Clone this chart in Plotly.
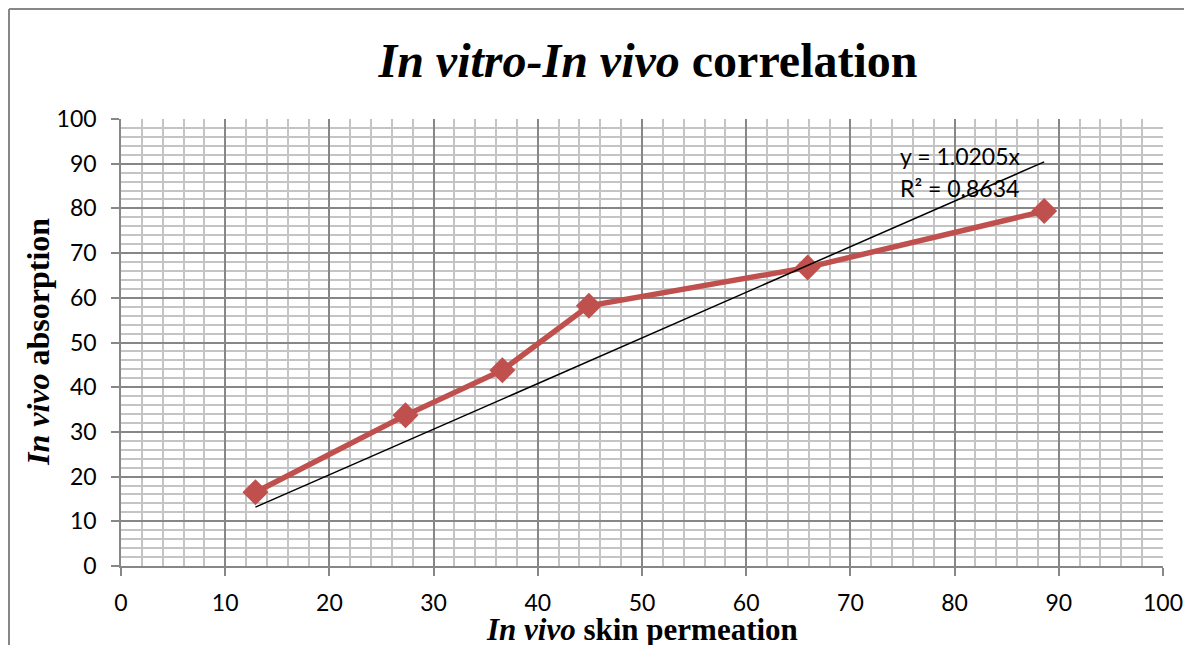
import plotly.graph_objects as go

# in vivo skin permeation (x) vs in vivo absorption (y)
permeation = [12.9, 27.3, 36.6, 44.9, 65.9, 88.6]
absorption = [16.5, 33.7, 43.8, 58.2, 66.8, 79.4]

slope = 1.0205
r_squared = 0.8634

trend_x = [min(permeation), max(permeation)]
trend_y = [slope * v for v in trend_x]

# page body has an 8px margin, so the figure is 8px smaller than the window
W, H = 1184, 637
L, R, T, B = 113, 29, 111, 79
pw, ph = W - L - R, H - T - B

red = "#C0504D"
tick_font = dict(family="Lato, Open Sans, sans-serif", size=23, color="black")
serif = "Liberation Serif, Times New Roman, serif"

fig = go.Figure()

fig.add_trace(go.Scatter(
    x=permeation, y=absorption,
    mode="lines+markers",
    line=dict(color=red, width=5.5),
    marker=dict(symbol="diamond", size=20, color=red),
    showlegend=False,
))

fig.add_trace(go.Scatter(
    x=trend_x, y=trend_y,
    mode="lines",
    line=dict(color="black", width=1.5),
    showlegend=False,
))

fig.add_annotation(x=74.6, y=91.7, xref="x", yref="y", text=f"y = {slope}x",
                   showarrow=False, xanchor="left", yanchor="middle",
                   font=dict(family="Lato, sans-serif", size=23, color="black"))
fig.add_annotation(x=74.6, y=84.5, xref="x", yref="y", text=f"R² = {r_squared}",
                   showarrow=False, xanchor="left", yanchor="middle",
                   font=dict(family="Lato, sans-serif", size=23, color="black"))

axis_common = dict(
    range=[0, 100], dtick=10, automargin=False,
    showgrid=True, gridcolor="#878787", gridwidth=1.5,
    minor=dict(dtick=2, showgrid=True, gridcolor="#C4C4C4", gridwidth=2),
    showline=True, linecolor="#878787", linewidth=1.5,
    ticks="outside", ticklen=8, tickcolor="#878787", tickwidth=1.5,
    tickfont=tick_font, zeroline=False, fixedrange=True,
)

fig.update_xaxes(**axis_common, ticklabelstandoff=8)
fig.update_yaxes(**axis_common, ticklabelstandoff=10)

# axis titles
fig.add_annotation(x=(642 - 8 - L) / pw, y=-(621 - (H - B)) / ph, xref="paper", yref="paper",
                   text="<b><i>In vivo</i> skin permeation</b>", showarrow=False,
                   xanchor="center", yanchor="middle",
                   font=dict(family=serif, size=31, color="black"))
fig.add_annotation(x=(30 - L) / pw, y=(H - B - 334) / ph, xref="paper", yref="paper",
                   text="<b><i>In vivo</i> absorption</b>", showarrow=False, textangle=-90,
                   xanchor="center", yanchor="middle",
                   font=dict(family=serif, size=32, color="black"))

# chart frame (left and top edges visible)
fx0 = (1 - L) / pw
fy1 = (H - 1 - B) / ph
fig.add_shape(type="line", xref="paper", yref="paper", x0=fx0, x1=fx0, y0=-B / ph - 0.1, y1=fy1,
              line=dict(color="#878787", width=2))
fig.add_shape(type="line", xref="paper", yref="paper", x0=fx0, x1=(W - L) / pw + 0.1, y0=fy1, y1=fy1,
              line=dict(color="#878787", width=2))

fig.update_layout(
    width=W, height=H,
    margin=dict(l=L, r=R, t=T, b=B),
    paper_bgcolor="white", plot_bgcolor="white",
    title=dict(text="<b><i>In vitro-In vivo</i> correlation</b>", x=640 / W, xanchor="center",
               y=1 - 52 / H, yanchor="middle",
               font=dict(family=serif, size=48, color="black")),
)

fig.write_html("out.html")
